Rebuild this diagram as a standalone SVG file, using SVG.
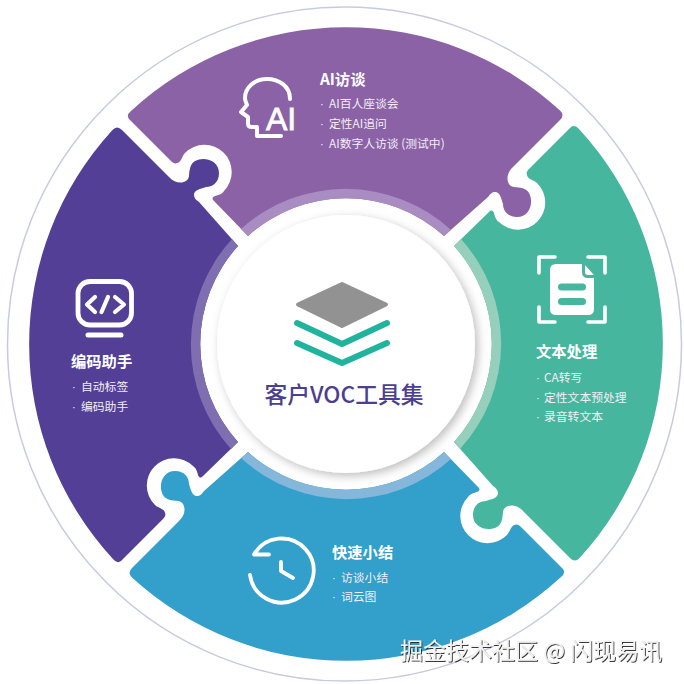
<svg xmlns="http://www.w3.org/2000/svg" xmlns:xlink="http://www.w3.org/1999/xlink" width="684" height="684" viewBox="0 0 684 684">
<style>
text{font-family:"Noto Sans CJK SC","Liberation Sans",sans-serif;fill:#fff}
.t{font-size:15.300px;font-weight:700}
.l{font-size:11.800px;fill:#f3eef6}
.d{font-family:"Liberation Sans",sans-serif;font-size:11px;fill:#f3eef6}
.ic{fill:none;stroke:#fff;stroke-linecap:round;stroke-linejoin:round}
.wm{font-size:23px;fill:#f2f2f2;filter:url(#wm)}
</style>
<defs>
<path id="piece" d="M131,111 A317,317 0 0 1 560,110.500 Q565,115 560,120 L513,167 C505,174 506,186 514,187 C520,187.500 526,188 529,193 C534,202 530,217 517,217 C507,217 503,210 503,204 C501,198 500,192 495,192 C492,192 490,194 488,197 L444,236 A146,146 0 0 0 248,236 L214,201 C211,198 213,197 215,196 C220,195 223,193 224,191 A27,27 0 0 0 185,153 C182,156 181,163 177,163 C175,164 173,163 171,161 L129,119 Q126,115 131,111 Z"/>
<path id="band" d="M241,229 A156,156 0 0 1 451,230 L444,236 A146,146 0 0 0 248,236 Z"/>
<filter id="sh" x="-20%" y="-20%" width="140%" height="140%"><feDropShadow dx="3" dy="3" stdDeviation="5" flood-color="#000" flood-opacity=".26"/></filter>
<filter id="wm" x="-5%" y="-20%" width="110%" height="140%"><feDropShadow dx="1" dy="1" stdDeviation=".5" flood-color="#222" flood-opacity=".9"/></filter>
</defs>
<rect width="684" height="684" fill="#fff"/>
<circle cx="344.500" cy="344" r="337" fill="none" stroke="#c8cbe0" stroke-width="1.500"/>
<g id="connectors"/>

<g id="node-ai">
<use xlink:href="#piece" href="#piece" fill="#8b62a6"/>
<use xlink:href="#band" href="#band" fill="#a98dc2"/>
<path class="ic" stroke-width="4" d="M290,99 C290,86 279,79 267,79 C254,79 245,88 245,98 C245,102 247,104 247,105 L241,112 L248,117 L248,124 Q248,127 252,127 L257,127 L257,136 L281,136"/>
<text x="266" y="129.500" style="font-family:'Liberation Sans',sans-serif;font-size:32px;stroke:#fff;stroke-width:.8px">AI</text>
<text class="t" x="320" y="85">AI访谈</text>
<text class="d" x="320" y="108">·</text><text class="l" x="329" y="108">AI百人座谈会</text>
<text class="d" x="320" y="128">·</text><text class="l" x="329" y="128">定性AI追问</text>
<text class="d" x="320" y="147.500">·</text><text class="l" x="329" y="147.500">AI数字人访谈 (测试中)</text>
</g>

<g id="node-text">
<use xlink:href="#piece" href="#piece" transform="rotate(90 346 344)" fill="#46b79e"/>
<use xlink:href="#band" href="#band" transform="rotate(90 346 344)" fill="#97cfbd"/>
<path class="ic" stroke-width="3.600" d="M555,257 H539 V273 M588,257 H605 V273 M539,307 V322 H555 M605,307 V322 H588"/>
<path fill="#fff" d="M556,264 H582 V272 Q582,278 588,278 H594 V309 Q594,315 588,315 H556 Q550,315 550,309 V270 Q550,264 556,264 Z M585,265 L594,275 H588 Q585,275 585,272 Z"/>
<rect x="558" y="283.500" width="28" height="7" rx="3.500" fill="#46b79e"/>
<rect x="558" y="298" width="28" height="7" rx="3.500" fill="#46b79e"/>
<text class="t" x="536" y="357">文本处理</text>
<text class="d" x="536" y="382">·</text><text class="l" x="544" y="382">CA转写</text>
<text class="d" x="536" y="402">·</text><text class="l" x="544" y="402">定性文本预处理</text>
<text class="d" x="536" y="421">·</text><text class="l" x="544" y="421">录音转文本</text>
</g>

<g id="node-summary">
<use xlink:href="#piece" href="#piece" transform="rotate(180 346 344)" fill="#339fcb"/>
<use xlink:href="#band" href="#band" transform="rotate(180 346 344)" fill="#84b7d9"/>
<path class="ic" stroke-width="3.800" d="M269,554.500 H254 A32,32 0 1 1 250,575 M281,562 V571 L293,578"/>
<text class="t" x="332" y="558">快速小结</text>
<text class="d" x="332" y="582">·</text><text class="l" x="341" y="582">访谈小结</text>
<text class="d" x="332" y="601">·</text><text class="l" x="341" y="601">词云图</text>
</g>

<g id="node-code">
<use xlink:href="#piece" href="#piece" transform="rotate(270 346 344)" fill="#533f96"/>
<use xlink:href="#band" href="#band" transform="rotate(270 346 344)" fill="#7f6fb0"/>
<rect class="ic" x="78" y="281.500" width="53.500" height="43.500" rx="12" stroke-width="4.800"/>
<path class="ic" stroke-width="4.200" d="M95,297 L87,304.500 L95,312 M115,297 L124,304.500 L115,312 M108,297 L101.500,312"/>
<path class="ic" stroke-width="5" d="M88,335 H121"/>
<text class="t" x="71" y="366.700">编码助手</text>
<text class="d" x="72" y="391">·</text><text class="l" x="81" y="391">自动标签</text>
<text class="d" x="72" y="411">·</text><text class="l" x="81" y="411">编码助手</text>
</g>

<g id="node-center">
<circle cx="346" cy="344" r="129" fill="#fff" filter="url(#sh)"/>
<path d="M298,304.500 L342,284 L386,304.500 L342,326 Z" fill="#929292" stroke="#929292" stroke-width="4" stroke-linejoin="round"/>
<path d="M297,323 L342,344 L387,323 M297,343 L342,363 L387,343" fill="none" stroke="#20b39e" stroke-width="6" stroke-linecap="round" stroke-linejoin="round"/>
<text x="344" y="403" text-anchor="middle" style="font-size:22.800px;font-weight:500;fill:#4b3f8f">客户VOC工具集</text>
</g>

<text class="wm" x="400" y="659">掘金技术社区 @ 闪现易讯</text>
</svg>
